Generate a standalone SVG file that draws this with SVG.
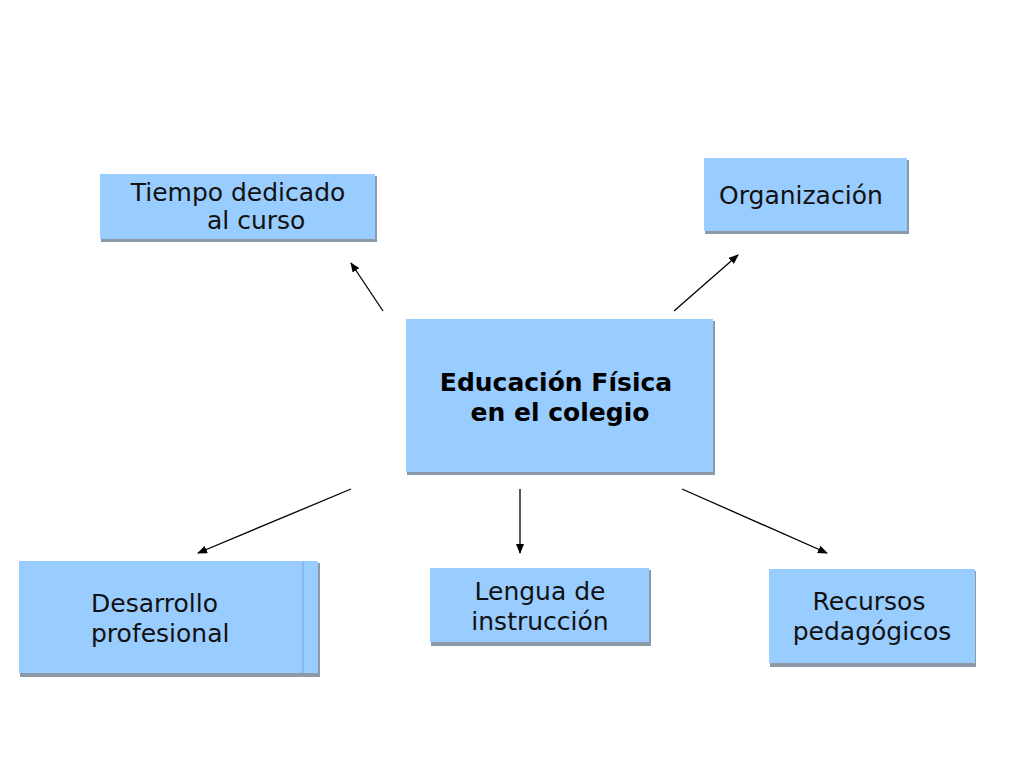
<svg xmlns="http://www.w3.org/2000/svg" width="1024" height="768" viewBox="0 0 1024 768">
<style>
.box{fill:#99CCFF;}
.sh{fill:#8C9AA8;}
.t{font-family:"DejaVu Sans",Verdana,sans-serif;font-size:25px;fill:#111;}
.b{font-weight:bold;fill:#000;}
.c{stroke:#000;stroke-width:1.3;fill:none;marker-end:url(#ah);}
</style>
<defs>
<marker id="ah" markerWidth="10" markerHeight="8" refX="9" refY="4" orient="auto" markerUnits="userSpaceOnUse">
<path d="M0,0 L10,4 L0,8 z" fill="#000"/>
</marker>
</defs>
<rect width="1024" height="768" fill="#fff"/>
<g id="tiempo">
<rect class="sh" x="101" y="176" width="276" height="66"/>
<rect class="box" x="100" y="174" width="275" height="65"/>
<text class="t" x="238" y="201" text-anchor="middle">Tiempo dedicado</text>
<text class="t" x="207" y="229">al curso</text>
</g>
<g id="organizacion">
<rect class="sh" x="705" y="160" width="204" height="74"/>
<rect class="box" x="704" y="158" width="203" height="73"/>
<text class="t" x="719" y="204">Organización</text>
</g>
<g id="centro">
<rect class="sh" x="407" y="321" width="308" height="154"/>
<rect class="box" x="406" y="319" width="307" height="153"/>
<text class="t b" x="556" y="391" text-anchor="middle">Educación Física</text>
<text class="t b" x="560" y="421" text-anchor="middle">en el colegio</text>
</g>
<g id="desarrollo">
<rect class="sh" x="20" y="563" width="300" height="114"/>
<rect class="box" x="19" y="561" width="299" height="112"/>
<line x1="303" y1="561" x2="303" y2="673" stroke="#7FA6CC" stroke-width="1"/>
<text class="t" x="91" y="612">Desarrollo</text>
<text class="t" x="91" y="642">profesional</text>
</g>
<g id="lengua">
<rect class="sh" x="431" y="570" width="220" height="76"/>
<rect class="box" x="430" y="568" width="219" height="74"/>
<text class="t" x="540" y="600" text-anchor="middle">Lengua de</text>
<text class="t" x="540" y="630" text-anchor="middle">instrucción</text>
</g>
<g id="recursos">
<rect class="sh" x="770" y="571" width="206" height="96"/>
<rect class="box" x="769" y="569" width="206" height="94"/>
<text class="t" x="869" y="610" text-anchor="middle">Recursos</text>
<text class="t" x="872" y="640" text-anchor="middle">pedagógicos</text>
</g>
<g id="connectors">
<line class="c" x1="383" y1="311" x2="351" y2="263"/>
<line class="c" x1="674" y1="311" x2="738" y2="255"/>
<line class="c" x1="351" y1="489" x2="198" y2="553"/>
<line class="c" x1="520" y1="489" x2="520" y2="553"/>
<line class="c" x1="682" y1="489" x2="827" y2="553"/>
</g>
</svg>
